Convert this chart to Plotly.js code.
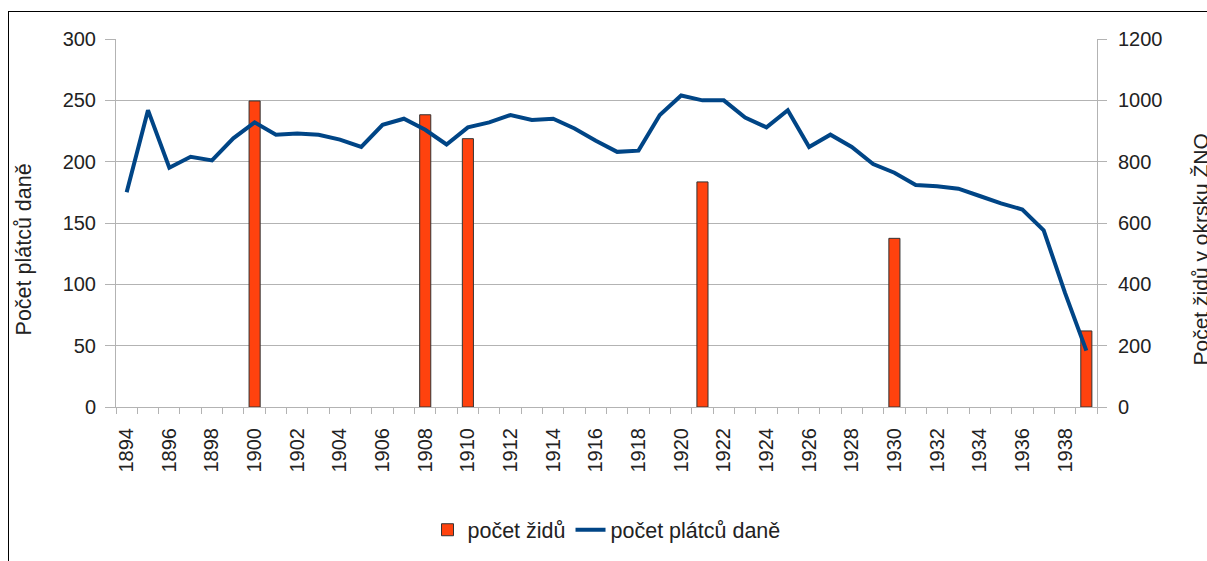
<!DOCTYPE html>
<html>
<head>
<meta charset="utf-8">
<script src="https://cdn.plot.ly/plotly-3.0.1.min.js"></script>
<style>
  html, body { margin: 0; padding: 0; background: #fff; overflow: hidden; }
  #chart { width: 1207px; height: 561px; }
  #frame { position: absolute; left: 8px; top: 11px; width: 1400px; height: 800px;
           border-left: 1.5px solid #000; border-top: 1.5px solid #000; pointer-events: none; }
</style>
</head>
<body>
<div id="chart"></div>
<div id="frame"></div>
<script>
// Years for the line series (počet plátců daně)
const years = [1894,1895,1896,1897,1898,1899,1900,1901,1902,1903,1904,1905,1906,1907,1908,1909,1910,
  1911,1912,1913,1914,1915,1916,1917,1918,1919,1920,1921,1922,1923,1924,1925,1926,1927,1928,1929,
  1930,1931,1932,1933,1934,1935,1936,1937,1938,1939];
const taxpayers = [175,242,195,204,201,219,232,222,223,222,218,212,230,235,226,214,228,
  232,238,234,235,227,217,208,209,238,254,250,250,236,228,242,212,222,212,198,
  191,181,180,178,172,166,161,144,93,46];

// Census years for the bar series (počet židů)
const censusYears = [1900,1908,1910,1921,1930,1939];
const jews = [998,953,875,734,550,248];

// Tick labels on x axis
const xTickYears = [1894,1896,1898,1900,1902,1904,1906,1908,1910,1912,1914,1916,1918,1920,1922,
  1924,1926,1928,1930,1932,1934,1936,1938];
const xTickText = xTickYears.map(String);

const leftTitle = "Počet plátců daně";
const rightTitle = "Počet židů v okrsku ŽNO";
const barName = "počet židů";
const lineName = "počet plátců daně";

const gridCol = '#b3b3b3';
const textCol = '#222';
const fontFam = '"Liberation Sans", Arial, sans-serif';

const traces = [
  {
    type: 'bar', name: barName, x: censusYears, y: jews, yaxis: 'y',
    width: 0.52,
    marker: { color: '#ff420e', line: { color: '#333', width: 1 } },
    hoverinfo: 'x+y'
  },
  {
    type: 'scatter', mode: 'lines', name: lineName, x: years, y: taxpayers, yaxis: 'y2',
    line: { color: '#004586', width: 4 }
  }
];

const layout = {
  width: 1207, height: 561,
  margin: { l: 116, r: 110, t: 39, b: 153 },
  paper_bgcolor: '#fff', plot_bgcolor: '#fff',
  font: { family: fontFam, color: textCol, size: 20 },
  showlegend: true,
  legend: {
    orientation: 'h', x: 0.5, xanchor: 'center', y: -0.33, yanchor: 'middle',
    font: { size: 21.5, color: textCol }, traceorder: 'normal', itemwidth: 30
  },
  xaxis: {
    range: [1893.5, 1939.5],
    tickmode: 'array', tickvals: xTickYears, ticktext: xTickText,
    tickangle: -90, ticks: '', ticklen: 0, ticklabelstandoff: 12,
    tickfont: { size: 20, color: textCol },
    showgrid: false, zeroline: false,
    showline: true, linecolor: gridCol, linewidth: 1,
    minor: { tick0: 1893.5, dtick: 1, ticks: 'outside', ticklen: 6, tickcolor: gridCol, showgrid: false }
  },
  yaxis: {
    side: 'right', range: [0, 1200], dtick: 200,
    showgrid: true, gridcolor: gridCol, gridwidth: 1,
    zeroline: false, showline: true, linecolor: gridCol, linewidth: 1,
    ticks: 'outside', ticklen: 9, tickcolor: gridCol, ticklabelstandoff: 7,
    tickfont: { size: 20, color: textCol }
  },
  yaxis2: {
    side: 'left', overlaying: 'y', range: [0, 300], dtick: 50,
    showgrid: false, zeroline: false, showline: true, linecolor: gridCol, linewidth: 1,
    ticks: 'outside', ticklen: 10, tickcolor: gridCol, ticklabelstandoff: 5,
    tickfont: { size: 20, color: textCol }
  },
  annotations: [
    { text: leftTitle, xref: 'paper', yref: 'paper', x: -0.0928, y: 0.428, textangle: -90,
      showarrow: false, xanchor: 'center', yanchor: 'middle', font: { size: 21.5, color: textCol } },
    { text: rightTitle, xref: 'paper', yref: 'paper', x: 1.105, y: 0.428, textangle: -90,
      showarrow: false, xanchor: 'center', yanchor: 'middle', font: { size: 21, color: textCol } }
  ]
};

Plotly.newPlot('chart', traces, layout, { displayModeBar: false, staticPlot: true });
</script>
</body>
</html>
